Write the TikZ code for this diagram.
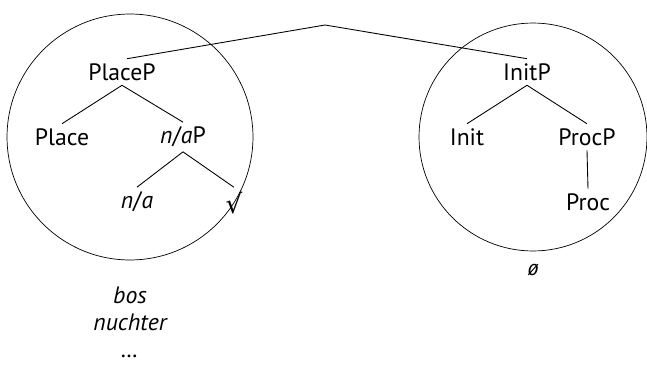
\documentclass[tikz,border=0pt]{standalone}
\usepackage{fontspec}
\setmainfont{PT Sans}
\newfontfamily\symbfont{DejaVu Sans}
\usetikzlibrary{positioning}

\begin{document}
\begin{tikzpicture}[
    x = 0.02cm,
    y = -0.02cm,
    every node/.style = {font=\fontsize{13.5}{15.3}\selectfont},
    cat/.style = {inner sep=2.5pt},
    spanbox/.style = {circle, draw, inner sep=0pt},
    branch/.style = {line width=0.5pt},
    spellout/.style = {font=\fontsize{13.5}{15.3}\selectfont\itshape}
]
\useasboundingbox (0,0) rectangle (647,369);

% spans
\node[spanbox, minimum size=4.92cm] (leftspan)  at (130,137) {};
\node[spanbox, minimum size=4.56cm] (rightspan) at (533,137) {};

% left tree
\node[cat] (placep) at (122,72)  {PlaceP};
\node[cat] (place)  at (62,137)  {Place};
\node[cat] (nap)    at (183,137) {\textit{n}/\textit{a}P};
\node[cat] (na)     at (137,202) {\textit{n}/\textit{a}};
\node[cat] (root)   at (234,203) {{\symbfont\fontsize{15}{15}\selectfont √}};

\draw[branch] (placep.south) -- (place.north);
\draw[branch] (placep.south) -- (nap.north);
\draw[branch] (nap.south) -- (na.north);
\draw[branch] (nap.south) -- (root.north);

% right tree
\node[cat] (initp) at (527,72)  {InitP};
\node[cat] (init)  at (467,137) {Init};
\node[cat] (procp) at (587,137) {ProcP};
\node[cat] (proc)  at (588,202) {Proc};

\draw[branch] (initp.south) -- (init.north);
\draw[branch] (initp.south) -- (procp.north);
\draw[branch] (procp.south) -- (proc.north);

% top
\coordinate (top) at (325,25);
\draw[branch] ([xshift=0.1cm]placep.north) -- (top) -- (initp.north);

% exponents
\node[spellout, align=center] (bos) at (130,322) {bos\\nuchter\\\dots};
\node[font=\fontsize{12.5}{14}\selectfont\itshape] (zero) at (533,270) {ø};
\end{tikzpicture}
\end{document}
